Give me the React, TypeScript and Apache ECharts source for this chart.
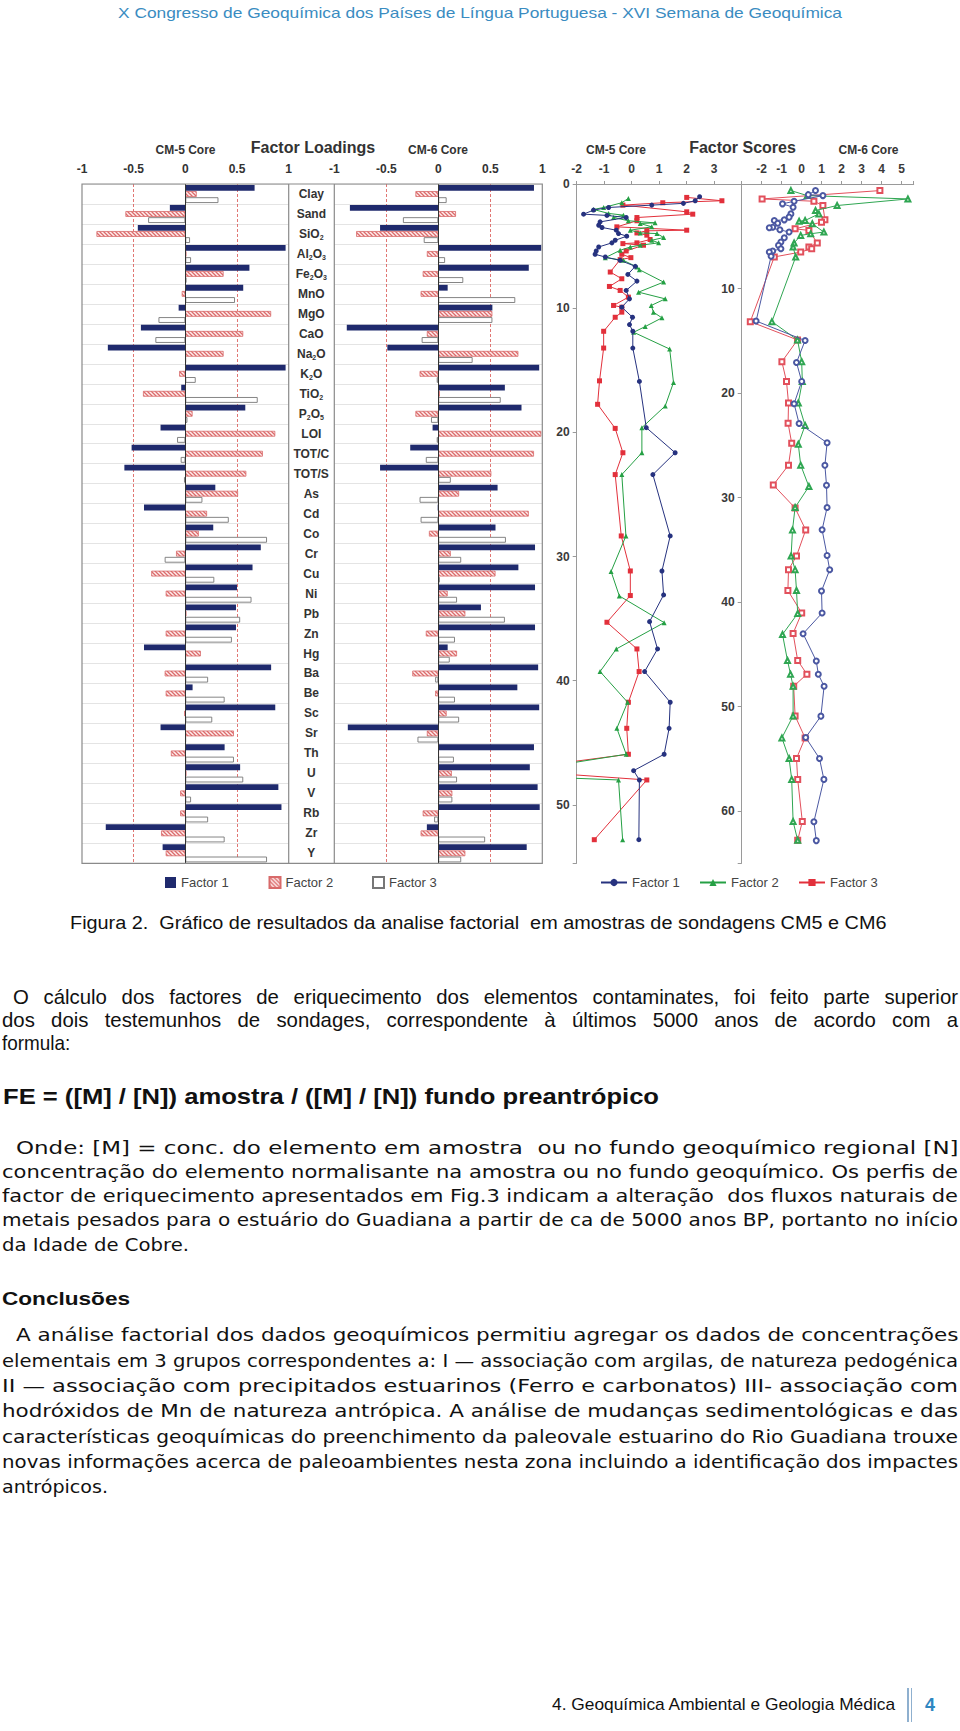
import React, { useEffect, useRef } from "react";
import * as echarts from "echarts";

// ---------------- data ----------------
const categories = ["Clay", "Sand", "SiO2", "Al2O3", "Fe2O3", "MnO", "MgO", "CaO", "Na2O", "K2O", "TiO2", "P2O5", "LOI", "TOT/C", "TOT/S", "As", "Cd", "Co", "Cr", "Cu", "Ni", "Pb", "Zn", "Hg", "Ba", "Be", "Sc", "Sr", "Th", "U", "V", "Rb", "Zr", "Y"];

const cm5Factor1 = [0.67, -0.15, -0.46, 0.97, 0.62, 0.56, -0.065, -0.43, -0.75, 0.97, -0.04, 0.58, -0.24, -0.52, -0.59, 0.29, -0.40, 0.27, 0.73, 0.65, 0.50, 0.49, 0.49, -0.40, 0.83, 0.07, 0.87, -0.24, 0.38, 0.53, 0.90, 0.93, -0.77, -0.22];
const cm5Factor2 = [0.11, -0.58, -0.86, 0.01, 0.37, -0.035, 0.83, 0.56, 0.37, -0.06, -0.41, 0.07, 0.87, 0.75, 0.59, 0.51, 0.21, 0.13, -0.09, -0.33, -0.19, 0.01, -0.19, 0.15, -0.20, -0.19, -0.01, 0.47, -0.14, 0.01, -0.05, -0.05, -0.235, -0.19];
const cm5Factor3 = [0.32, -0.36, 0.045, 0.055, 0.01, 0.48, -0.26, -0.29, 0.005, 0.10, 0.70, 0.02, -0.08, -0.045, -0.013, 0.165, 0.42, 0.79, -0.20, 0.28, 0.64, 0.53, 0.45, 0.005, 0.22, 0.38, 0.26, 0.005, 0.47, 0.56, 0.055, 0.22, 0.38, 0.79];
const cm6Factor1 = [0.92, -0.85, -0.56, 0.99, 0.87, 0.09, 0.52, -0.88, -0.49, 0.97, 0.64, 0.80, -0.055, -0.27, -0.56, 0.57, -0.006, 0.55, 0.93, 0.77, 0.93, 0.41, 0.93, 0.09, 0.96, 0.76, 0.97, -0.87, 0.92, 0.88, 0.955, 0.975, -0.11, 0.85];
const cm6Factor2 = [-0.22, 0.17, -0.79, -0.11, -0.15, -0.17, 0.52, -0.11, 0.77, -0.18, 0.015, -0.22, 0.99, 0.92, 0.51, 0.20, 0.87, -0.09, 0.12, 0.55, 0.09, 0.26, -0.12, 0.18, -0.25, -0.03, 0.08, -0.11, 0.005, 0.13, 0.135, -0.15, -0.17, 0.26];
const cm6Factor3 = [0.08, -0.34, -0.14, 0.065, 0.24, 0.74, 0.52, -0.16, 0.33, -0.015, 0.60, -0.07, -0.015, -0.12, 0.12, -0.18, -0.17, 0.65, 0.22, 0.015, 0.18, 0.64, 0.16, 0.11, -0.03, 0.16, 0.20, -0.20, 0.15, 0.18, 0.135, -0.04, 0.45, 0.22];

// factor scores: [score, depth]
const cm5Score1 = [[2.47, 1.02], [2.31, 1.35], [1.88, 1.56], [0.73, 1.70], [-0.84, 1.89], [-1.39, 2.10], [-1.75, 2.43], [-0.9, 2.53], [-0.2, 2.70], [-1.15, 3.05], [-1.2, 3.32], [-1.08, 3.50], [-0.56, 3.72], [-0.48, 3.99], [-0.18, 4.20], [-0.6, 4.53], [-0.72, 4.74], [-1.2, 5.07], [-1.29, 5.39], [-1.33, 5.66], [-0.96, 5.88], [-0.42, 6.15], [0.13, 6.63], [-0.14, 7.28], [0.19, 7.82], [-0.2, 8.57], [-0.08, 9.25], [-0.36, 9.92], [0.03, 10.73], [-0.08, 11.32], [0.04, 11.86], [0.04, 13.21], [0.28, 15.9], [0.53, 19.62], [1.58, 21.64], [0.77, 23.4], [1.40, 28.34], [1.10, 31.16], [1.16, 33.09], [0.65, 35.24], [0.94, 37.44], [0.47, 39.26], [1.40, 41.73], [1.36, 43.83], [1.18, 45.92], [0.07, 47.24], [0.28, 47.99], [0.26, 52.8]];
const cm5Score2 = [[-0.12, 1.16], [-0.36, 1.51], [-1.02, 1.89], [-1.39, 2.05], [-0.84, 2.37], [-0.30, 2.51], [-0.66, 2.70], [-0.12, 2.96], [0.85, 3.13], [0.31, 3.18], [0.73, 3.45], [-0.05, 3.72], [0.31, 3.94], [0.92, 3.99], [1.16, 4.31], [0.73, 4.53], [0.98, 4.74], [0.31, 4.93], [-0.05, 5.07], [-0.42, 5.34], [-0.96, 5.93], [-0.30, 6.15], [0.19, 6.68], [0.28, 6.90], [1.16, 7.90], [0.25, 8.71], [1.22, 9.25], [0.71, 9.78], [0.79, 10.32], [1.10, 10.78], [0.49, 11.48], [0.07, 11.94], [1.38, 13.29], [1.52, 15.98], [1.22, 17.87], [0.37, 19.62], [0.37, 21.64], [-0.36, 23.4], [-0.21, 28.34], [-0.75, 31.2], [-0.45, 33.17], [1.18, 35.32], [-0.56, 37.44], [-1.15, 39.26], [-0.15, 41.73], [-0.54, 43.83], [-0.2, 45.92], [-5, 47.6], [-0.48, 47.99], [-0.33, 52.8]];
const cm5Score3 = [[2.0, 1.08], [3.28, 1.35], [1.13, 1.51], [-0.32, 1.70], [2.0, 2.24], [2.22, 2.43], [0.19, 2.70], [0.19, 2.96], [-0.54, 3.45], [2.0, 3.72], [0.55, 3.77], [0.19, 3.94], [0.55, 4.12], [0.67, 4.47], [0.19, 4.74], [-0.32, 4.80], [0.43, 4.93], [-0.20, 5.39], [-0.36, 5.66], [-0.03, 5.93], [-0.42, 6.09], [-0.78, 7.09], [-0.36, 7.63], [-0.81, 8.25], [-0.42, 8.57], [-0.12, 9.11], [-0.66, 9.78], [-0.36, 9.92], [-0.36, 10.32], [-0.6, 10.73], [-1.02, 11.86], [-1.02, 13.21], [-1.17, 15.85], [-1.24, 17.74], [-0.6, 19.68], [-0.32, 21.64], [-0.6, 23.4], [-0.38, 28.34], [-0.05, 31.16], [-0.05, 33.14], [-0.9, 35.29], [0.19, 37.44], [0.27, 39.26], [-0.12, 41.73], [-0.18, 43.83], [-0.12, 45.92], [-4.5, 47.2], [0.55, 47.99], [-1.36, 52.8]];

const cm6Score1 = [[0.69, 0.63], [0.33, 1.02], [1.06, 1.11], [-0.38, 1.65], [-0.96, 1.90], [-0.43, 2.22], [-0.54, 2.86], [-0.63, 3.17], [-0.87, 3.43], [-1.37, 3.49], [-1.2, 3.75], [-1.45, 4.13], [-1.62, 4.19], [-1.09, 4.38], [-0.63, 4.60], [-0.87, 5.14], [-1.04, 5.56], [-1.16, 5.87], [-1.04, 6.19], [-1.45, 6.41], [-1.62, 6.51], [-1.53, 6.92], [-2.28, 13.11], [0.17, 14.98], [-0.26, 17.08], [0, 18.89], [-0.38, 21.02], [-0.13, 22.92], [1.27, 24.76], [1.16, 26.92], [1.24, 28.83], [1.27, 30.95], [1.02, 33.09], [1.27, 35.54], [1.40, 36.91], [0.99, 38.95], [1.02, 41.05], [0.07, 43.03], [0.73, 45.64], [0.83, 46.91], [1.12, 48.06], [0.96, 50.92], [0.2, 52.96], [0.89, 54.97], [1.11, 56.97], [0.61, 61.02], [0.73, 62.83]];
const cm6Score2 = [[-0.54, 0.63], [0.28, 1.11], [5.31, 1.43], [1.77, 2.06], [0.69, 2.54], [0.86, 2.86], [0.17, 3.49], [-0.13, 3.56], [0.53, 3.81], [1.11, 4.6], [0.45, 4.76], [-0.05, 4.92], [-0.38, 5.65], [-0.43, 6.03], [-0.3, 6.98], [-1.49, 13.17], [-0.21, 14.92], [0, 17.0], [0.03, 18.9], [-0.17, 20.95], [0.17, 23.1], [-0.17, 24.9], [-0.05, 26.9], [0.36, 28.95], [-0.33, 30.95], [-0.46, 33.1], [-0.53, 35.6], [-0.33, 36.9], [-0.26, 38.9], [-0.2, 41.1], [-0.96, 43.1], [-0.71, 45.6], [-0.56, 46.9], [-0.43, 48.06], [-0.43, 50.9], [-0.99, 53.0], [-0.63, 54.97], [-0.5, 56.97], [-0.43, 61.0], [-0.2, 62.8]];
const cm6Score3 = [[3.91, 0.63], [-1.98, 1.43], [0.61, 1.65], [1.06, 2.06], [1.16, 3.43], [0.99, 3.65], [-0.33, 4.29], [0.36, 4.44], [0.78, 5.65], [0.36, 6.03], [0.5, 6.19], [-0.05, 6.51], [-1.37, 6.98], [-2.57, 13.17], [-0.21, 14.92], [-0.99, 17.0], [-0.76, 18.9], [-0.66, 20.95], [-0.68, 22.9], [-0.5, 24.8], [-0.66, 26.9], [-1.42, 28.8], [-0.33, 31.0], [0.2, 33.1], [-0.26, 35.6], [-0.66, 36.9], [-0.69, 38.9], [0, 41.05], [-0.43, 43.0], [-0.2, 45.6], [0.26, 46.9], [-0.4, 48.06], [-0.33, 50.9], [0.17, 53.0], [-0.26, 54.97], [-0.2, 56.97], [0.03, 61.0], [-0.2, 62.8]];

const legendNames: Record<string, string> = { L1: "Factor 1", L2: "Factor 2", L3: "Factor 3", S1: "Factor 1", S2: "Factor 2", S3: "Factor 3" };

// ---------------- text ----------------
const NARROW = '"Liberation Sans", Arial, Helvetica, sans-serif';
const WIDE = '"DejaVu Sans", Verdana, sans-serif';

type Line = { t: string; x: number; w?: number; cy: number; size: number; bold?: boolean; color?: string; mode: "fit" | "left" | "justify"; s?: number; fam?: string };

const P1S = 0.97;

const textLines: Line[] = [
  { t: "X Congresso de Geoquímica dos Países de Língua Portuguesa - XVI Semana de Geoquímica", x: 118, w: 724, cy: 13, size: 15, color: "#3a8cc1", mode: "fit", fam: NARROW },
  { t: "Figura 2.  Gráfico de resultados da analise factorial  em amostras de sondagens CM5 e CM6", x: 69.5, w: 816.5, cy: 922.5, size: 18, mode: "fit", fam: NARROW },
  { t: "O cálculo dos factores de eriquecimento dos elementos contaminates, foi feito parte superior", x: 13, w: 945, cy: 996.4, size: 21, mode: "justify", s: P1S, fam: NARROW },
  { t: "dos dois testemunhos de sondages, correspondente à últimos 5000 anos de acordo com a", x: 2, w: 956, cy: 1019.6, size: 21, mode: "justify", s: P1S, fam: NARROW },
  { t: "formula:", x: 2, cy: 1042.7, size: 21, mode: "left", s: 0.9, fam: NARROW },
  { t: "FE = ([M] / [N]) amostra / ([M] / [N]) fundo preantrópico", x: 3, w: 656, cy: 1096.8, size: 22, bold: true, mode: "fit", fam: NARROW },
  { t: "Onde: [M] = conc. do elemento em amostra  ou no fundo geoquímico regional [N]", x: 15.5, w: 942.5, cy: 1147.5, size: 17, mode: "fit", fam: WIDE },
  { t: "concentração do elemento normalisante na amostra ou no fundo geoquímico. Os perfis de", x: 2, w: 956, cy: 1171.8, size: 17, mode: "fit", fam: WIDE },
  { t: "factor de eriquecimento apresentados em Fig.3 indicam a alteração  dos fluxos naturais de", x: 2, w: 956, cy: 1196.1, size: 17, mode: "fit", fam: WIDE },
  { t: "metais pesados para o estuário do Guadiana a partir de ca de 5000 anos BP, portanto no início", x: 2, w: 956, cy: 1220.4, size: 17, mode: "fit", fam: WIDE },
  { t: "da Idade de Cobre.", x: 2, w: 187, cy: 1244.6, size: 17, mode: "fit", fam: WIDE },
  { t: "Conclusões", x: 2, w: 128, cy: 1298.7, size: 19, bold: true, mode: "fit", fam: NARROW },
  { t: "A análise factorial dos dados geoquímicos permitiu agregar os dados de concentrações", x: 15.5, w: 942.5, cy: 1335.1, size: 17, mode: "fit", fam: WIDE },
  { t: "elementais em 3 grupos correspondentes a: I — associação com argilas, de natureza pedogénica", x: 2, w: 956, cy: 1360.5, size: 17, mode: "fit", fam: WIDE },
  { t: "II — associação com precipitados estuarinos (Ferro e carbonatos) III- associação com", x: 2, w: 956, cy: 1385.9, size: 17, mode: "fit", fam: WIDE },
  { t: "hodróxidos de Mn de natureza antrópica. A análise de mudanças sedimentológicas e das", x: 2, w: 956, cy: 1411.3, size: 17, mode: "fit", fam: WIDE },
  { t: "características geoquímicas do preenchimento da paleovale estuarino do Rio Guadiana trouxe", x: 2, w: 956, cy: 1436.6, size: 17, mode: "fit", fam: WIDE },
  { t: "novas informações acerca de paleoambientes nesta zona incluindo a identificação dos impactes", x: 2, w: 956, cy: 1462.0, size: 17, mode: "fit", fam: WIDE },
  { t: "antrópicos.", x: 2, w: 106, cy: 1487.4, size: 17, mode: "fit", fam: WIDE },
  { t: "4. Geoquímica Ambiental e Geologia Médica", x: 552, w: 344, cy: 1705, size: 17, mode: "fit", fam: NARROW },
  { t: "4", x: 925, cy: 1705, size: 18, bold: true, color: "#2e86c1", mode: "left", s: 1, fam: NARROW },
];

let measureCtx: CanvasRenderingContext2D | null = null;
function measure(text: string, font: string) {
  if (!measureCtx) measureCtx = document.createElement("canvas").getContext("2d");
  if (!measureCtx) return text.length * 8;
  measureCtx.font = font;
  return measureCtx.measureText(text).width;
}

function TextLine({ line }: { line: Line }) {
  const fam = line.fam || NARROW;
  const font = `${line.bold ? "bold " : ""}${line.size}px ${fam}`;
  let s = line.s ?? 1;
  let wordSpacing = 0;
  const natural = measure(line.t, font);
  if (line.mode === "fit" && line.w) s = line.w / natural;
  if (line.mode === "justify" && line.w) {
    const spaces = (line.t.match(/ /g) || []).length;
    if (natural * s > line.w) s = line.w / natural;
    else if (spaces > 0) wordSpacing = (line.w / s - natural) / spaces;
  }
  const lh = Math.round(line.size * 1.2);
  return (
    <div
      style={{
        position: "absolute",
        left: line.x,
        top: line.cy - lh / 2,
        fontFamily: fam,
        fontSize: line.size,
        fontWeight: line.bold ? "bold" : "normal",
        color: line.color || "#111",
        lineHeight: `${lh}px`,
        whiteSpace: "pre",
        wordSpacing: `${wordSpacing}px`,
        transform: `scaleX(${s})`,
        transformOrigin: "0 0",
      }}
    >
      {line.t}
    </div>
  );
}

// ---------------- chart ----------------
const FONT = '"Liberation Sans", Arial, Helvetica, sans-serif';
const NAVY = "#1f2a6d";
const CM5C = ["#26327f", "#25a044", "#e2303b"];
const CM6C = ["#4b58a2", "#2fa652", "#e2505c"];

const GT = 184;
const GH = 679.3;

function makeHatch() {
  const c = document.createElement("canvas");
  c.width = 4;
  c.height = 4;
  const g = c.getContext("2d");
  if (g) {
    g.fillStyle = "#fdeeee";
    g.fillRect(0, 0, 4, 4);
    g.strokeStyle = "#dc6a6a";
    g.lineWidth = 1.3;
    g.beginPath();
    g.moveTo(0, 0);
    g.lineTo(4, 4);
    g.moveTo(3, -1);
    g.lineTo(5, 1);
    g.moveTo(-1, 3);
    g.lineTo(1, 5);
    g.stroke();
  }
  return c;
}

function subLabel(name: string) {
  return name.replace(/([A-Za-z/]+)|(\d+)/g, (m: string, a: string, d: string) => (a ? `{n|${a}}` : `{s|${d}}`));
}

function loadingSeries(idx: number, f1: number[], f2: number[], f3: number[], hatch: any) {
  const base = { type: "bar", xAxisIndex: idx, yAxisIndex: idx, barWidth: 5.8, barGap: "6%", barCategoryGap: "6%" };
  return [
    {
      ...base, name: "L1", data: f1, z: 3,
      itemStyle: { color: NAVY },
      markLine: {
        silent: true, symbol: ["none", "none"], label: { show: false },
        lineStyle: { color: "#333", width: 1, type: "solid" },
        data: [{ xAxis: 0 }],
      },
    },
    { ...base, name: "L2", data: f2, z: 3, itemStyle: { color: { image: hatch, repeat: "repeat" }, borderColor: "#d86a6a", borderWidth: 0.8 } },
    { ...base, name: "L3", data: f3, z: 3, itemStyle: { color: "#ffffff", borderColor: "#777", borderWidth: 0.9 } },
  ];
}

function scoreSeries(idx: number, d1: number[][], d2: number[][], d3: number[][], hollow: boolean) {
  const c = hollow ? CM6C : CM5C;
  const sym = hollow ? ["emptyCircle", "emptyTriangle", "emptyRect"] : ["circle", "triangle", "rect"];
  const data = [d1, d2, d3];
  return [0, 1, 2].map((i) => ({
    type: "line",
    name: "S" + (i + 1),
    xAxisIndex: idx,
    yAxisIndex: idx,
    data: data[i],
    symbol: sym[i],
    symbolSize: 5,
    lineStyle: { color: c[i], width: 1 },
    itemStyle: { color: c[i] },
    clip: true,
    z: 4 - i,
  }));
}

const axisLabelStyle = { color: "#333", fontWeight: "bold", fontSize: 12, fontFamily: FONT };

function buildOption() {
  const hatch = makeHatch();
  const loadX = (g: number) => ({
    gridIndex: g, type: "value", min: -1, max: 1, interval: 0.5, position: "top",
    axisLine: { show: false, onZero: false }, axisTick: { show: false },
    axisLabel: { ...axisLabelStyle, margin: 9 },
    splitLine: { show: true, lineStyle: { color: ["transparent", "#d9534f", "transparent", "#d9534f", "transparent"], type: [3, 2], width: 0.8 } },
  });
  const loadY = (g: number, labels: boolean) => ({
    gridIndex: g, type: "category", data: categories, inverse: true,
    axisLine: { show: false, onZero: false }, axisTick: { show: false },
    axisLabel: labels
      ? {
          show: true, align: "center", margin: 23, interval: 0,
          formatter: (v: string) => subLabel(v),
          rich: {
            n: { fontSize: 12, fontWeight: "bold", color: "#333", fontFamily: FONT, lineHeight: 14 },
            s: { fontSize: 7, fontWeight: "bold", color: "#333", fontFamily: FONT, lineHeight: 7, verticalAlign: "bottom" },
          },
        }
      : { show: false },
    splitLine: { show: true, interval: 0, lineStyle: { color: "#e4e4e4", width: 1 } },
  });
  const scoreX = (g: number, min: number, max: number, lastLabel: number) => ({
    gridIndex: g, type: "value", min, max, interval: 1, position: "top",
    axisLine: { show: true, onZero: false, lineStyle: { color: "#9a9a9a" } },
    axisTick: { show: true, length: 3, lineStyle: { color: "#9a9a9a" } },
    axisLabel: { ...axisLabelStyle, color: "#3a3a3a", margin: 9, formatter: (v: number) => (v <= lastLabel && (g === 2 || v > min) && Number.isInteger(v) ? String(v) : "") },
    splitLine: { show: false },
  });
  const scoreY = (g: number, max: number, showZero: boolean) => ({
    gridIndex: g, type: "value", min: 0, max, interval: 10, inverse: true,
    axisLine: { show: true, onZero: false, lineStyle: { color: "#9a9a9a" } },
    axisTick: { show: true, length: 4, lineStyle: { color: "#9a9a9a" } },
    axisLabel: { ...axisLabelStyle, color: "#3a3a3a", margin: 7, formatter: (v: number) => (v % 10 === 0 && (showZero || v > 0) ? String(v) : "") },
    splitLine: { show: false },
  });

  const legendBase = {
    orient: "horizontal", padding: 0, itemGap: 0, selectedMode: false,
    textStyle: { fontSize: 13, color: "#444", fontFamily: FONT, padding: [0, 0, 0, 0] },
    formatter: (n: string) => legendNames[n],
  };

  const title = (text: string, x: number, y: number, size: number) => ({
    type: "text", x, y, z: 100, silent: true,
    style: { text, fill: "#333", font: `bold ${size}px ${FONT}`, textAlign: "center", textVerticalAlign: "middle", align: "center", verticalAlign: "middle" },
  });

  return {
    animation: false,
    grid: [
      { left: 82, top: GT, width: 206.7, height: GH },
      { left: 334.3, top: GT, width: 208, height: GH },
      { left: 576.7, top: GT, width: 165, height: GH },
      { left: 741.7, top: GT, width: 172, height: GH },
    ],
    xAxis: [loadX(0), loadX(1), scoreX(2, -2, 4, 3), scoreX(3, -3, 5.6, 5)],
    yAxis: [loadY(0, false), loadY(1, true), scoreY(2, 54.7, true), scoreY(3, 65, false)],
    legend: [
      { ...legendBase, data: [{ name: "L1", icon: "rect" }], left: 165, top: 876, itemWidth: 11, itemHeight: 11 },
      { ...legendBase, data: [{ name: "L2", icon: "rect" }], left: 268.5, top: 876, itemWidth: 11, itemHeight: 11 },
      { ...legendBase, data: [{ name: "L3", icon: "rect" }], left: 372, top: 876, itemWidth: 11, itemHeight: 11 },
      { ...legendBase, data: ["S1"], left: 600, top: 876, itemWidth: 26, itemHeight: 9 },
      { ...legendBase, data: ["S2"], left: 699, top: 876, itemWidth: 26, itemHeight: 9 },
      { ...legendBase, data: ["S3"], left: 798, top: 876, itemWidth: 26, itemHeight: 9 },
    ],
    series: [
      ...loadingSeries(0, cm5Factor1, cm5Factor2, cm5Factor3, hatch),
      ...loadingSeries(1, cm6Factor1, cm6Factor2, cm6Factor3, hatch),
      ...scoreSeries(2, cm5Score1, cm5Score2, cm5Score3, false),
      ...scoreSeries(3, cm6Score1, cm6Score2, cm6Score3, true),
    ],
    graphic: {
      elements: [
        { type: "rect", z: 100, silent: true, shape: { x: 82, y: GT, width: 460.3, height: GH }, style: { fill: "none", stroke: "#8a8a8a", lineWidth: 1.2 } },
        { type: "line", z: 100, silent: true, shape: { x1: 288.7, y1: GT, x2: 288.7, y2: GT + GH }, style: { stroke: "#8a8a8a", lineWidth: 1.2 } },
        { type: "line", z: 100, silent: true, shape: { x1: 334.3, y1: GT, x2: 334.3, y2: GT + GH }, style: { stroke: "#8a8a8a", lineWidth: 1.2 } },
        title("CM-5 Core", 185.5, 150, 12),
        title("Factor Loadings", 313, 147, 16),
        title("CM-6 Core", 438, 150, 12),
        title("CM-5 Core", 616, 150, 12),
        title("Factor Scores", 742.5, 147, 16),
        title("CM-6 Core", 868.5, 150, 12),
      ],
    },
  };
}

export default function App() {
  const ref = useRef<HTMLDivElement>(null);
  useEffect(() => {
    if (!ref.current) return;
    const chart = echarts.init(ref.current, null, { renderer: "svg" });
    chart.setOption(buildOption() as any);
    return () => chart.dispose();
  }, []);
  return (
    <div style={{ position: "absolute", left: 0, top: 0, width: 960, height: 1731, background: "#fff", overflow: "hidden" }}>
      <div ref={ref} style={{ position: "absolute", left: 0, top: 0, width: 960, height: 900 }} />
      {textLines.map((l, i) => (
        <TextLine key={i} line={l} />
      ))}
      <div style={{ position: "absolute", left: 907, top: 1688, width: 1.5, height: 34, background: "#8fb0cf" }} />
      <div style={{ position: "absolute", left: 910.5, top: 1688, width: 1.5, height: 34, background: "#8fb0cf" }} />
    </div>
  );
}
